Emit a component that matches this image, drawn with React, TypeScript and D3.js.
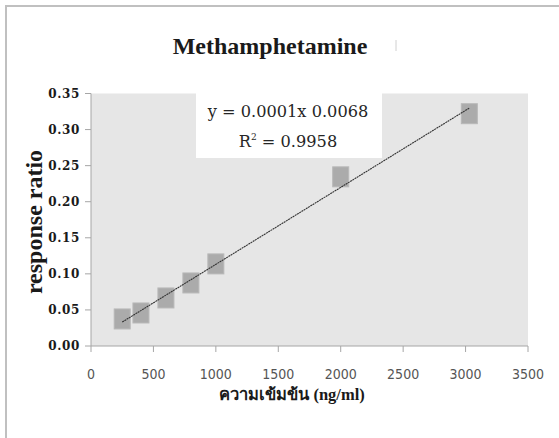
import React from "react";
import * as d3 from "d3";

// Calibration standards: concentration (ng/ml) vs response ratio
const concentrations = [250, 400, 600, 800, 1000, 2000, 3030];
const responseRatios = [0.0375, 0.0458, 0.0666, 0.0874, 0.1138, 0.2345, 0.322];
const xTicks = [0, 500, 1000, 1500, 2000, 2500, 3000, 3500];
const yTicks = [0, 0.05, 0.1, 0.15, 0.2, 0.25, 0.3, 0.35];
const equationLines = ["y = 0.0001x 0.0068", "R² = 0.9958"];

const W = 559;
const H = 438;
const plot = { left: 91, right: 528, top: 93.5, bottom: 346 };

export default function App() {
  const x = d3.scaleLinear().domain([0, 3500]).range([plot.left, plot.right]);
  const y = d3.scaleLinear().domain([0, 0.35]).range([plot.bottom, plot.top]);

  // least-squares trendline
  const mx = d3.mean(concentrations)!;
  const my = d3.mean(responseRatios)!;
  const sxy = d3.sum(concentrations, (c, i) => (c - mx) * (responseRatios[i] - my));
  const sxx = d3.sum(concentrations, (c) => (c - mx) ** 2);
  const slope = sxy / sxx;
  const intercept = my - slope * mx;
  const x0 = d3.min(concentrations)!;
  const x1 = d3.max(concentrations)!;
  const trend = d3.line<number>()
    .x((d) => x(d))
    .y((d) => y(slope * d + intercept))([x0, x1]);

  const axisColor = "#a6a6a6";
  const serif = "'Liberation Serif', 'Times New Roman', serif";

  return (
    <svg
      width={W}
      height={H}
      style={{ position: "absolute", left: 0, top: 0, background: "#fff" }}
    >
      {/* chart frame */}
      <line x1={5} x2={W} y1={6} y2={6} stroke="#c0c0c0" strokeWidth={2} />
      <line x1={6} x2={6} y1={5} y2={H} stroke="#c0c0c0" strokeWidth={2} />

      <text
        x={270}
        y={54}
        textAnchor="middle"
        fontFamily={serif}
        fontWeight="bold"
        fontSize={24}
        fill="#1a1a1a"
      >
        Methamphetamine
      </text>
      <line x1={396} x2={396} y1={40} y2={51} stroke="#d0d0d0" strokeWidth={1} />

      {/* plot area */}
      <rect
        x={plot.left}
        y={plot.top}
        width={plot.right - plot.left}
        height={plot.bottom - plot.top}
        fill="#e6e6e6"
      />

      {/* equation box */}
      <rect x={196} y={plot.top - 1} width={186} height={158 - plot.top + 1} fill="#fff" />
      {equationLines.map((t, i) => (
        <text
          key={t}
          x={288}
          y={117 + i * 30}
          textAnchor="middle"
          fontFamily="'DejaVu Serif', serif"
          fontSize={16.2}
          fill="#262626"
        >
          {i === 1 ? (
            <>
              R<tspan dy={-7} fontSize={9}>2</tspan>
              <tspan dy={7}> = 0.9958</tspan>
            </>
          ) : (
            t
          )}
        </text>
      ))}

      {/* axes */}
      <line x1={plot.left} x2={plot.left} y1={plot.top} y2={plot.bottom} stroke={axisColor} />
      <line x1={plot.left} x2={plot.right} y1={plot.bottom} y2={plot.bottom} stroke={axisColor} />
      {yTicks.map((t) => (
        <g key={t}>
          <line x1={plot.left - 6} x2={plot.left} y1={y(t)} y2={y(t)} stroke={axisColor} />
          <text
            x={80}
            y={y(t) + 4}
            textAnchor="end"
            fontFamily="'DejaVu Serif', serif"
            fontWeight="bold"
            fontSize={12}
            letterSpacing={0.6}
            fill="#1a1a1a"
          >
            {t.toFixed(2)}
          </text>
        </g>
      ))}
      {xTicks.map((t) => (
        <g key={t}>
          <line x1={x(t)} x2={x(t)} y1={plot.bottom} y2={plot.bottom + 6} stroke={axisColor} />
          <text
            x={x(t)}
            y={379}
            textAnchor="middle"
            fontFamily="'DejaVu Sans Condensed', 'DejaVu Sans', sans-serif"
            fontStretch="condensed"
            fontSize={14}
            fill="#555"
          >
            {t}
          </text>
        </g>
      ))}

      {/* data points */}
      {concentrations.map((c, i) => (
        <rect
          key={c}
          x={x(c) - 8}
          y={y(responseRatios[i]) - 10}
          width={16}
          height={20}
          fill="#ababab"
          stroke="#b8b8b8"
          strokeWidth={1}
        />
      ))}

      {/* trendline */}
      <path d={trend ?? ""} fill="none" stroke="#333" strokeWidth={1.1} strokeDasharray="2 0.6" />

      {/* axis titles */}
      <text
        x={292}
        y={400}
        textAnchor="middle"
        fontFamily={serif}
        fontWeight="bold"
        fontSize={16.5}
        fill="#1a1a1a"
      >
        ความเข้มข้น (ng/ml)
      </text>
      <text
        transform={`translate(42, 222) rotate(-90)`}
        textAnchor="middle"
        fontFamily={serif}
        fontWeight="bold"
        fontSize={24}
        fill="#1a1a1a"
      >
        response ratio
      </text>
    </svg>
  );
}
